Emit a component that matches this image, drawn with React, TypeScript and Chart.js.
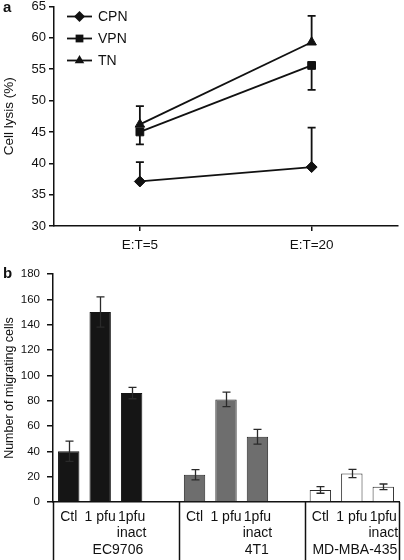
import React, { useEffect, useRef } from 'react';
import { Chart, registerables } from 'chart.js';

Chart.register(...registerables);

// ---------- Panel a: cell lysis ----------
const lysisCategories = ['E:T=5', 'E:T=20'];
const lysisSeries = ['CPN', 'VPN', 'TN'];
const cpnLysis = [37.1, 39.4];
const vpnLysis = [45.0, 55.6];
const tnLysis = [46.2, 59.3];
const cpnErrUp = [3.1, 6.3];
const cpnErrDown = [0, 0];
const vpnErrUp = [0, 0];
const vpnErrDown = [2.0, 3.9];
const tnErrUp = [2.9, 4.2];
const tnErrDown = [0, 0];
const lysisMin = 30;
const lysisMax = 65;
const lysisStep = 5;

// ---------- Panel b: migrating cells ----------
const treatmentLabels = [
  ['Ctl'], ['1 pfu'], ['1pfu', 'inact'], [''],
  ['Ctl'], ['1 pfu'], ['1pfu', 'inact'], [''],
  ['Ctl'], ['1 pfu'], ['1pfu', 'inact'],
];
const cellLines = ['EC9706', '4T1', 'MD-MBA-435'];
const migratingCells = [40, 150, 86, null, 21.5, 81, 51.5, null, 9.5, 22.5, 12];
const migratingErr = [8, 12, 4.5, null, 4, 5.7, 5.8, null, 2.6, 3.2, 2.2];
const migMin = 0;
const migMax = 180;
const migStep = 20;

// ---------- styles ----------
const FAMILY = "'Liberation Sans', Arial, Helvetica, sans-serif";
const INK = '#111111';
const groupFill = ['#151515', '#6e6e6e', '#ffffff'];
const groupEdge = ['#151515', '#2a2a2a', '#2a2a2a'];
const pointStyles = ['rectRot', 'rect', 'triangle'];

function drawMarker(ctx: CanvasRenderingContext2D, style: string, x: number, y: number, r: number) {
  ctx.beginPath();
  if (style === 'rectRot') {
    ctx.moveTo(x, y - r);
    ctx.lineTo(x + r, y);
    ctx.lineTo(x, y + r);
    ctx.lineTo(x - r, y);
  } else if (style === 'rect') {
    const s = r * Math.SQRT1_2;
    ctx.rect(x - s, y - s, 2 * s, 2 * s);
  } else {
    ctx.moveTo(x, y - r);
    ctx.lineTo(x + r * 0.866, y + r * 0.5);
    ctx.lineTo(x - r * 0.866, y + r * 0.5);
  }
  ctx.closePath();
  ctx.fill();
}

const lineErrorPlugin = {
  id: 'lineErrors',
  afterDatasetsDraw(chart: any) {
    const ctx = chart.ctx;
    const ys = chart.scales.y;
    ctx.save();
    ctx.strokeStyle = INK;
    ctx.lineWidth = 1.8;
    chart.data.datasets.forEach((ds: any, i: number) => {
      const meta = chart.getDatasetMeta(i);
      meta.data.forEach((pt: any, j: number) => {
        const v = ds.data[j];
        const top = v + ds.errUp[j];
        const bot = v - ds.errDown[j];
        if (top === bot) return;
        const yT = ys.getPixelForValue(top);
        const yB = ys.getPixelForValue(bot);
        ctx.beginPath();
        ctx.moveTo(pt.x, yT);
        ctx.lineTo(pt.x, yB);
        if (ds.errUp[j] > 0) { ctx.moveTo(pt.x - 4, yT); ctx.lineTo(pt.x + 4, yT); }
        if (ds.errDown[j] > 0) { ctx.moveTo(pt.x - 4, yB); ctx.lineTo(pt.x + 4, yB); }
        ctx.stroke();
      });
    });
    ctx.restore();
  },
};

const lineLegendPlugin = {
  id: 'lineLegend',
  afterDraw(chart: any) {
    const ctx = chart.ctx;
    const { left, top } = chart.chartArea;
    ctx.save();
    ctx.fillStyle = INK;
    ctx.strokeStyle = INK;
    ctx.lineWidth = 1.8;
    ctx.font = `14px ${FAMILY}`;
    ctx.textBaseline = 'middle';
    ctx.textAlign = 'left';
    chart.data.datasets.forEach((ds: any, i: number) => {
      const y = top + 10 + i * 22;
      ctx.beginPath();
      ctx.moveTo(left + 13, y);
      ctx.lineTo(left + 38, y);
      ctx.stroke();
      drawMarker(ctx, ds.pointStyle, left + 25.5, y, 5.5);
      ctx.fillText(ds.label, left + 44, y + 1);
    });
    ctx.restore();
  },
};

const barExtrasPlugin = {
  id: 'barExtras',
  afterDatasetsDraw(chart: any) {
    const ctx = chart.ctx;
    const ys = chart.scales.y;
    const meta = chart.getDatasetMeta(0);
    ctx.save();
    ctx.strokeStyle = '#2a2a2a';
    ctx.lineWidth = 1.3;
    meta.data.forEach((bar: any, j: number) => {
      const v = migratingCells[j];
      const e = migratingErr[j];
      if (v == null || e == null) return;
      const x = Math.round(bar.x) + 0.5;
      const yT = ys.getPixelForValue(v + e);
      const yB = ys.getPixelForValue(v - e);
      ctx.beginPath();
      ctx.moveTo(x, yT);
      ctx.lineTo(x, yB);
      ctx.moveTo(x - 4, yT);
      ctx.lineTo(x + 4, yT);
      ctx.moveTo(x - 4, yB);
      ctx.lineTo(x + 4, yB);
      ctx.stroke();
    });
    ctx.restore();
  },
  afterDraw(chart: any, _args: any, opts: any) {
    const ctx = chart.ctx;
    const xs = chart.scales.x;
    const { left, right, bottom } = chart.chartArea;
    const h = chart.height;
    const groupSize = 4;
    const edges: number[] = [left];
    for (let g = 1; g < cellLines.length; g++) {
      const k = g * groupSize;
      edges.push((xs.getPixelForValue(k - 1) + xs.getPixelForValue(k)) / 2);
    }
    edges.push(right);
    ctx.save();
    ctx.strokeStyle = INK;
    ctx.lineWidth = 1.5;
    edges.forEach((x) => {
      const px = Math.round(x) + 0.5;
      ctx.beginPath();
      ctx.moveTo(px, bottom);
      ctx.lineTo(px, h);
      ctx.stroke();
    });
    ctx.fillStyle = INK;
    ctx.font = `14px ${FAMILY}`;
    ctx.textAlign = 'center';
    ctx.textBaseline = 'middle';
    cellLines.forEach((name, g) => {
      const cx = (edges[g] + edges[g + 1]) / 2 + ((opts.nudge && opts.nudge[g]) || 0);
      ctx.fillText(name, cx, bottom + 48);
    });
    ctx.restore();
  },
};

export default function App() {
  const refA = useRef<HTMLCanvasElement>(null);
  const refB = useRef<HTMLCanvasElement>(null);

  useEffect(() => {
    const chartA = new Chart(refA.current as HTMLCanvasElement, {
      type: 'line',
      data: {
        labels: lysisCategories,
        datasets: [
          { label: lysisSeries[0], data: cpnLysis, errUp: cpnErrUp, errDown: cpnErrDown },
          { label: lysisSeries[1], data: vpnLysis, errUp: vpnErrUp, errDown: vpnErrDown },
          { label: lysisSeries[2], data: tnLysis, errUp: tnErrUp, errDown: tnErrDown },
        ].map((d: any, i: number) => ({
          ...d,
          borderColor: INK,
          backgroundColor: INK,
          borderWidth: 1.8,
          pointStyle: pointStyles[i],
          pointRadius: 5.5,
          pointHoverRadius: 5.5,
          pointBackgroundColor: INK,
          pointBorderColor: INK,
          pointBorderWidth: 1,
          tension: 0,
        })),
      } as any,
      options: {
        responsive: false,
        animation: false,
        events: [],
        layout: { padding: { left: 0, right: 3, top: 6, bottom: 0 } },
        plugins: { legend: { display: false }, tooltip: { enabled: false } },
        scales: {
          x: {
            type: 'category',
            offset: true,
            grid: { display: true, drawOnChartArea: false, drawTicks: true, tickLength: 5, color: INK, lineWidth: 1.5 },
            border: { display: true, color: INK, width: 1.5 },
            ticks: { color: INK, font: { family: FAMILY, size: 13.5 }, padding: 6 },
            afterFit: (s: any) => { s.height = 36; s.paddingLeft = 0; s.paddingRight = 0; },
          },
          y: {
            min: lysisMin,
            max: lysisMax,
            grid: { display: true, drawOnChartArea: false, drawTicks: true, tickLength: 5, color: INK, lineWidth: 1.5 },
            border: { display: true, color: INK, width: 1.5 },
            ticks: { stepSize: lysisStep, color: INK, font: { family: FAMILY, size: 13 }, padding: 3 },
            title: { display: true, text: 'Cell lysis (%)', color: INK, font: { family: FAMILY, size: 13.5 }, padding: { top: 1, bottom: 0 } },
            afterFit: (s: any) => { s.width = 54; s.paddingTop = 0; s.paddingBottom = 0; },
          },
        },
      } as any,
      plugins: [lineErrorPlugin, lineLegendPlugin],
    });

    const chartB = new Chart(refB.current as HTMLCanvasElement, {
      type: 'bar',
      data: {
        labels: treatmentLabels,
        datasets: [
          {
            label: 'Number of migrating cells',
            data: migratingCells,
            backgroundColor: (c: any) => groupFill[Math.floor(c.dataIndex / 4)],
            borderColor: (c: any) => groupEdge[Math.floor(c.dataIndex / 4)],
            borderWidth: 1,
            inflateAmount: 0,
            barPercentage: 0.68,
            categoryPercentage: 1,
          },
        ],
      } as any,
      options: {
        responsive: false,
        animation: false,
        events: [],
        layout: { padding: { left: 0, right: 5, top: 12, bottom: 0 } },
        plugins: {
          legend: { display: false },
          tooltip: { enabled: false },
          barExtras: { nudge: [2, 15, 3] },
        },
        scales: {
          x: {
            type: 'category',
            offset: true,
            grid: { display: false, drawTicks: false },
            border: { display: true, color: INK, width: 1.5 },
            ticks: { color: INK, font: { family: FAMILY, size: 14, lineHeight: 1.15 }, padding: 7, maxRotation: 0, autoSkip: false },
            afterFit: (s: any) => { s.height = 58; s.paddingLeft = 0; s.paddingRight = 0; },
          },
          y: {
            min: migMin,
            max: migMax,
            grid: { display: true, drawOnChartArea: false, drawTicks: true, tickLength: 6, color: INK, lineWidth: 1.5 },
            border: { display: true, color: INK, width: 1.5 },
            ticks: { stepSize: migStep, color: INK, font: { family: FAMILY, size: 11.5 }, padding: 7 },
            title: { display: true, text: 'Number of migrating cells', color: INK, font: { family: FAMILY, size: 12.5 }, padding: { top: 2, bottom: 0 } },
            afterFit: (s: any) => { s.width = 53; s.paddingTop = 0; s.paddingBottom = 0; },
          },
        },
      } as any,
      plugins: [barExtrasPlugin],
    });

    return () => {
      chartA.destroy();
      chartB.destroy();
    };
  }, []);

  const letter: React.CSSProperties = {
    position: 'absolute',
    left: 3,
    font: `bold 15px ${FAMILY}`,
    lineHeight: '15px',
    color: INK,
  };

  return (
    <div style={{ position: 'absolute', left: 0, top: 0, width: 404, height: 560, background: '#ffffff', overflow: 'hidden' }}>
      <canvas ref={refA} width={404} height={262} style={{ position: 'absolute', left: 0, top: 0, display: 'block' }} />
      <canvas ref={refB} width={404} height={298} style={{ position: 'absolute', left: 0, top: 262, display: 'block' }} />
      <div style={{ ...letter, top: -1 }}>a</div>
      <div style={{ ...letter, top: 265 }}>b</div>
    </div>
  );
}
